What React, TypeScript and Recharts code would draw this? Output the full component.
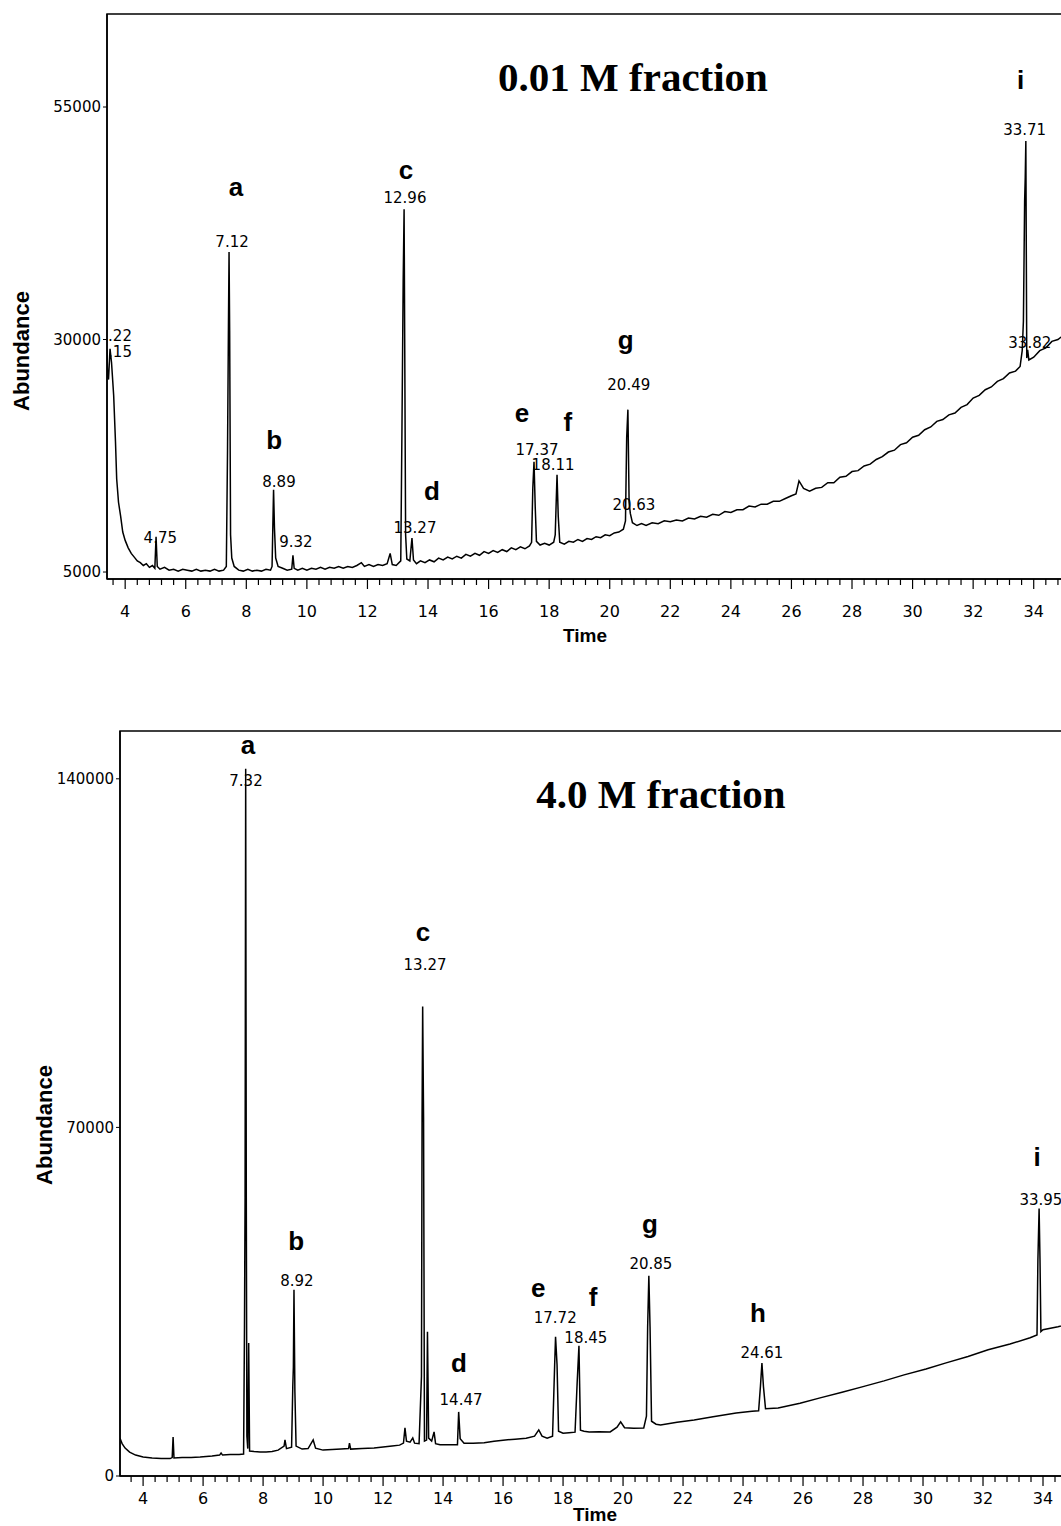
import * as React from 'react';
import { LineChart, Line, XAxis, YAxis, ReferenceArea, ReferenceDot } from 'recharts';

const SANS = '"Liberation Sans", Arial, sans-serif';
const NUM = '"DejaVu Sans", "Liberation Sans", sans-serif';
const SERIF = '"Liberation Serif", "Times New Roman", serif';

// chromatogram traces: [time (min), abundance]
const topTrace: [number, number][] = [
  [3.4, 28900], [3.42, 26000], [3.45, 25700], [3.5, 29000], [3.55, 27500], [3.62, 24000], [3.68, 19000],
  [3.72, 15000], [3.78, 12500], [3.85, 11000], [3.92, 9300], [4.0, 8400], [4.1, 7600], [4.2, 7000],
  [4.3, 6600], [4.4, 6200], [4.5, 6000], [4.6, 5700], [4.7, 5900], [4.8, 5500], [4.9, 5700], [4.98, 5400],
  [5.02, 8800], [5.06, 5600], [5.15, 5300], [5.3, 5500], [5.45, 5200], [5.6, 5300], [5.75, 5100],
  [5.9, 5300], [6.05, 5200], [6.2, 5100], [6.35, 5300], [6.5, 5100], [6.65, 5200], [6.8, 5100],
  [6.95, 5300], [7.1, 5100], [7.25, 5200], [7.34, 5600], [7.38, 18100], [7.41, 31400], [7.43, 39400],
  [7.45, 31000], [7.48, 9000], [7.52, 6500], [7.6, 5600], [7.75, 5200], [7.9, 5100], [8.05, 5300],
  [8.2, 5100], [8.35, 5200], [8.5, 5100], [8.65, 5300], [8.8, 5200], [8.85, 5600], [8.9, 13840],
  [8.93, 9700], [8.97, 6500], [9.05, 5600], [9.2, 5400], [9.35, 5200], [9.5, 5300], [9.54, 6800],
  [9.58, 5400], [9.7, 5200], [9.85, 5400], [10.0, 5200], [10.15, 5400], [10.3, 5300], [10.45, 5500],
  [10.6, 5300], [10.75, 5500], [10.9, 5400], [11.05, 5600], [11.2, 5400], [11.35, 5600], [11.5, 5500],
  [11.65, 5700], [11.8, 6000], [11.9, 5600], [12.05, 5800], [12.2, 5600], [12.35, 5800], [12.5, 5700],
  [12.65, 5900], [12.75, 7000], [12.82, 5800], [12.95, 5700], [13.1, 6200], [13.14, 20600], [13.18, 36300],
  [13.21, 44000], [13.23, 30000], [13.26, 9000], [13.3, 6400], [13.4, 6200], [13.47, 8660], [13.52, 6300],
  [13.62, 5900], [13.75, 6200], [13.9, 6000], [14.05, 6300], [14.2, 6100], [14.35, 6500], [14.5, 6300],
  [14.65, 6600], [14.8, 6400], [14.95, 6700], [15.1, 6500], [15.25, 6900], [15.4, 6700], [15.55, 7000],
  [15.7, 6800], [15.85, 7200], [16.0, 7000], [16.15, 7300], [16.3, 7100], [16.45, 7400], [16.6, 7200],
  [16.75, 7600], [16.9, 7400], [17.05, 7700], [17.2, 7500], [17.35, 7800], [17.42, 8200], [17.46, 14000],
  [17.5, 16860], [17.54, 12000], [17.58, 8300], [17.7, 7900], [17.85, 8100], [18.0, 7900], [18.15, 8200],
  [18.2, 9000], [18.26, 15460], [18.3, 11000], [18.35, 8200], [18.5, 8000], [18.65, 8300], [18.8, 8200],
  [18.95, 8500], [19.1, 8300], [19.25, 8600], [19.4, 8500], [19.55, 8800], [19.7, 8700], [19.85, 9000],
  [20.0, 8900], [20.15, 9200], [20.3, 9300], [20.45, 9600], [20.52, 10500], [20.56, 19450], [20.6, 22460],
  [20.64, 12500], [20.68, 11300], [20.75, 10300], [20.9, 10000], [21.05, 10200], [21.2, 10000],
  [21.4, 10300], [21.6, 10200], [21.8, 10500], [22.0, 10400], [22.2, 10600], [22.4, 10500], [22.6, 10800],
  [22.8, 10700], [23.0, 11000], [23.2, 10900], [23.4, 11200], [23.6, 11100], [23.8, 11500], [24.0, 11400],
  [24.2, 11700], [24.4, 11700], [24.6, 12100], [24.8, 12000], [25.0, 12300], [25.2, 12300], [25.4, 12600],
  [25.6, 12600], [25.8, 12900], [26.0, 13200], [26.15, 13400], [26.25, 14800], [26.4, 14000],
  [26.6, 13700], [26.8, 14000], [27.0, 14100], [27.2, 14600], [27.4, 14600], [27.6, 15200], [27.8, 15300],
  [28.0, 15800], [28.2, 15900], [28.4, 16400], [28.6, 16600], [28.8, 17100], [29.0, 17400], [29.2, 17900],
  [29.4, 18100], [29.6, 18700], [29.8, 18900], [30.0, 19500], [30.2, 19700], [30.4, 20300], [30.6, 20600],
  [30.8, 21200], [31.0, 21400], [31.2, 21900], [31.4, 22100], [31.6, 22700], [31.8, 23000], [32.0, 23700],
  [32.2, 24000], [32.4, 24600], [32.6, 24900], [32.8, 25500], [33.0, 25800], [33.2, 26400], [33.4, 26600],
  [33.55, 27100], [33.62, 28800], [33.66, 32000], [33.7, 44900], [33.72, 47400], [33.74, 51350],
  [33.77, 28000], [33.8, 28900], [33.84, 27800], [34.0, 28100], [34.2, 28800], [34.4, 29100],
  [34.6, 29800], [34.8, 30000], [35.0, 30500],
];

const bottomTrace: [number, number][] = [
  [3.23, 7600], [3.3, 6500], [3.4, 5600], [3.55, 4800], [3.75, 4200], [4.0, 3800], [4.3, 3600],
  [4.6, 3500], [4.9, 3500], [4.97, 3700], [5.0, 7840], [5.03, 3600], [5.3, 3700], [5.6, 3700],
  [5.9, 3800], [6.1, 3900], [6.3, 4000], [6.55, 4200], [6.6, 4600], [6.65, 4200], [6.9, 4300],
  [7.2, 4300], [7.35, 4400], [7.38, 30000], [7.4, 56000], [7.42, 142000], [7.44, 56000], [7.46, 8000],
  [7.49, 5500], [7.52, 26700], [7.55, 5000], [7.7, 4900], [7.9, 4800], [8.1, 4800], [8.3, 4900],
  [8.5, 5200], [8.7, 6000], [8.73, 7240], [8.78, 5500], [8.95, 5800], [8.99, 17900], [9.01, 21900],
  [9.03, 37400], [9.06, 17000], [9.1, 6000], [9.3, 5400], [9.5, 5500], [9.67, 7240], [9.75, 5600],
  [10.0, 5200], [10.3, 5300], [10.6, 5400], [10.85, 5500], [10.88, 6600], [10.92, 5400], [11.3, 5500],
  [11.7, 5600], [12.0, 5800], [12.3, 6000], [12.55, 6200], [12.68, 6600], [12.73, 9650], [12.78, 7000],
  [12.9, 6800], [12.99, 7640], [13.05, 6600], [13.2, 6500], [13.28, 20000], [13.3, 72200], [13.32, 94300],
  [13.35, 72000], [13.38, 7000], [13.45, 7200], [13.48, 28960], [13.52, 7600], [13.62, 7000],
  [13.7, 8850], [13.75, 6500], [13.9, 6300], [14.2, 6300], [14.48, 6300], [14.52, 12870], [14.57, 7500],
  [14.7, 6600], [15.0, 6600], [15.37, 6700], [15.7, 7000], [16.0, 7200], [16.4, 7400], [16.77, 7600],
  [17.05, 8000], [17.19, 9250], [17.3, 8000], [17.47, 7600], [17.65, 8000], [17.72, 22300],
  [17.75, 27950], [17.8, 22300], [17.85, 9000], [18.0, 8600], [18.2, 8700], [18.4, 8800], [18.47, 18700],
  [18.53, 26140], [18.58, 9200], [18.7, 9000], [18.87, 8850], [19.2, 8900], [19.57, 8850], [19.8, 9800],
  [19.92, 10860], [20.05, 9700], [20.35, 9600], [20.69, 9650], [20.78, 12000], [20.82, 29960],
  [20.86, 40220], [20.9, 29960], [20.95, 11000], [21.1, 10400], [21.25, 10260], [21.8, 10800],
  [22.37, 11260], [23.0, 11900], [23.77, 12670], [24.3, 13000], [24.52, 13100], [24.58, 18000],
  [24.63, 22700], [24.68, 18000], [24.75, 13500], [25.17, 13670], [25.9, 14600], [26.57, 15690],
  [27.3, 16800], [27.97, 17900], [28.7, 19100], [29.37, 20310], [30.1, 21500], [30.77, 22720],
  [31.5, 24000], [32.17, 25340], [32.9, 26500], [33.57, 27750], [33.8, 28300], [33.83, 43440],
  [33.87, 53690], [33.9, 43440], [33.93, 29000], [34.0, 29360], [34.5, 29960], [35.0, 30700],
];

// axis ranges and tick labels
const topTimeDomain: [number, number] = [3.4, 35];
const topAbundanceDomain: [number, number] = [4250, 65000];
const topAbundanceTicks = [5000, 30000, 55000];
const bottomTimeDomain: [number, number] = [3.23, 35];
const bottomAbundanceDomain: [number, number] = [0, 149600];
const bottomAbundanceTicks = [0, 70000, 140000];

// minor ticks every 0.4 min, labelled on even minutes
const timeTicks: number[] = [];
for (let k = 9; k <= 87; k++) timeTicks.push(Math.round(k * 4) / 10);

// peak annotations: [text, time, abundance]
type Note = [string, number, number];
const topLetters: Note[] = [
  ['a', 7.66, 46390], ['b', 8.92, 19190], ['c', 13.27, 48200], ['d', 14.13, 13710], ['e', 17.1, 22090],
  ['f', 18.62, 21120], ['g', 20.53, 29940], ['i', 33.57, 57890],
];
const topTimes: Note[] = [
  ['.22', 3.83, 30370], ['.15', 3.83, 28650], ['4.75', 5.16, 8660], ['7.12', 7.53, 40480],
  ['8.89', 9.08, 14680], ['9.32', 9.64, 8230], ['12.96', 13.24, 45200], ['13.27', 13.57, 9730],
  ['17.37', 17.6, 18120], ['18.11', 18.13, 16500], ['20.49', 20.63, 25100], ['20.63', 20.8, 12200],
  ['33.71', 33.7, 52500], ['33.82', 33.87, 29620],
];
const bottomLetters: Note[] = [
  ['a', 7.5, 146860], ['b', 9.1, 47210], ['c', 13.33, 109290], ['d', 14.53, 22700], ['e', 17.17, 37770],
  ['f', 19.0, 35960], ['g', 20.9, 50630], ['h', 24.5, 32750], ['i', 33.8, 64090],
];
const bottomTimes: Note[] = [
  ['7.32', 7.43, 139620], ['8.92', 9.13, 39180], ['13.27', 13.4, 102660], ['14.47', 14.6, 15270],
  ['17.72', 17.74, 31740], ['18.45', 18.76, 27720], ['20.85', 20.93, 42590], ['24.61', 24.63, 24710],
  ['33.95', 33.93, 55450],
];

function TimeTick(props: any) {
  const { x, y, payload, labelGap } = props;
  const v = payload.value;
  const major = Math.abs(v - Math.round(v)) < 1e-6 && Math.round(v) % 2 === 0;
  return (
    <g>
      <line x1={x} x2={x} y1={y} y2={y + (major ? 10 : 6)} stroke="#000" strokeWidth={1.2} />
      {major && (
        <text x={x} y={y + labelGap} textAnchor="middle" fontSize={16} fontFamily={NUM} fill="#000">
          {Math.round(v)}
        </text>
      )}
    </g>
  );
}

function Chromatogram({
  trace, timeDomain, yDomain, yTicks, letters, times, width, height, margin, yAxisWidth, xAxisHeight, labelGap,
}: {
  trace: [number, number][];
  timeDomain: [number, number];
  yDomain: [number, number];
  yTicks: number[];
  letters: Note[];
  times: Note[];
  width: number;
  height: number;
  margin: { top: number; right: number; bottom: number; left: number };
  yAxisWidth: number;
  xAxisHeight: number;
  labelGap: number;
}) {
  const data = React.useMemo(() => trace.map(([t, v]) => ({ t, v })), [trace]);
  return (
    <LineChart width={width} height={height} data={data} margin={margin}>
      <XAxis
        dataKey="t"
        type="number"
        domain={timeDomain}
        allowDataOverflow
        ticks={timeTicks.filter((t) => t >= timeDomain[0] && t <= timeDomain[1])}
        interval={0}
        tickSize={0}
        tickMargin={0}
        height={xAxisHeight}
        axisLine={{ stroke: '#000', strokeWidth: 1.5 }}
        tickLine={false}
        tick={(p: any) => <TimeTick {...p} labelGap={labelGap} />}
      />
      <YAxis
        type="number"
        domain={yDomain}
        allowDataOverflow
        ticks={yTicks}
        interval={0}
        width={yAxisWidth}
        tickSize={4}
        tickMargin={2}
        axisLine={{ stroke: '#000', strokeWidth: 1.5 }}
        tickLine={{ stroke: '#000' }}
        tick={{ fontSize: 15, fill: '#000', fontFamily: NUM }}
      />
      <ReferenceArea
        x1={timeDomain[0]}
        x2={timeDomain[1]}
        y1={yDomain[0]}
        y2={yDomain[1]}
        fill="none"
        stroke="#000"
        strokeWidth={1.5}
        fillOpacity={0}
      />
      <Line
        type="linear"
        dataKey="v"
        stroke="#000"
        strokeWidth={1.5}
        dot={false}
        isAnimationActive={false}
      />
      {letters.map(([txt, t, v], i) => (
        <ReferenceDot
          key={`l${i}`}
          x={t}
          y={v}
          r={0}
          shape={(p: any) => (
            <text x={p.cx} y={p.cy} textAnchor="middle" dominantBaseline="central" fontSize={26}
              fontWeight="bold" fontFamily={SANS} fill="#000">
              {txt}
            </text>
          )}
        />
      ))}
      {times.map(([txt, t, v], i) => (
        <ReferenceDot
          key={`t${i}`}
          x={t}
          y={v}
          r={0}
          shape={(p: any) => (
            <text x={p.cx} y={p.cy} textAnchor="middle" dominantBaseline="central" fontSize={15}
              fontFamily={NUM} fill="#000">
              {txt}
            </text>
          )}
        />
      ))}
    </LineChart>
  );
}

const abs = (left: number, top: number): React.CSSProperties => ({ position: 'absolute', left, top });

export default function App() {
  return (
    <div style={{ position: 'absolute', left: 0, top: 0, width: 1061, height: 1526, overflow: 'hidden', background: '#fff' }}>
      <div style={abs(0, 0)}>
        <Chromatogram
          trace={topTrace}
          timeDomain={topTimeDomain}
          yDomain={topAbundanceDomain}
          yTicks={topAbundanceTicks}
          letters={topLetters}
          times={topTimes}
          width={1080}
          height={660}
          margin={{ top: 14, right: 16, bottom: 11, left: 0 }}
          yAxisWidth={107}
          xAxisHeight={70}
          labelGap={38}
        />
      </div>
      <div style={abs(0, 720)}>
        <Chromatogram
          trace={bottomTrace}
          timeDomain={bottomTimeDomain}
          yDomain={bottomAbundanceDomain}
          yTicks={bottomAbundanceTicks}
          letters={bottomLetters}
          times={bottomTimes}
          width={1090}
          height={820}
          margin={{ top: 11, right: 17, bottom: 6, left: 0 }}
          yAxisWidth={120}
          xAxisHeight={58}
          labelGap={28}
        />
      </div>

      <div style={{ ...abs(633, 77), transform: 'translate(-50%, -50%)', fontFamily: SERIF, fontWeight: 'bold', fontSize: 41, whiteSpace: 'nowrap' }}>
        0.01 M fraction
      </div>
      <div style={{ ...abs(661, 794), transform: 'translate(-50%, -50%)', fontFamily: SERIF, fontWeight: 'bold', fontSize: 41, whiteSpace: 'nowrap' }}>
        4.0 M fraction
      </div>

      <div style={{ ...abs(22, 351), transform: 'translate(-50%, -50%) rotate(-90deg)', fontFamily: SANS, fontWeight: 'bold', fontSize: 22, whiteSpace: 'nowrap' }}>
        Abundance
      </div>
      <div style={{ ...abs(45, 1125), transform: 'translate(-50%, -50%) rotate(-90deg)', fontFamily: SANS, fontWeight: 'bold', fontSize: 22, whiteSpace: 'nowrap' }}>
        Abundance
      </div>
      <div style={{ ...abs(585, 636), transform: 'translate(-50%, -50%)', fontFamily: SANS, fontWeight: 'bold', fontSize: 19, whiteSpace: 'nowrap' }}>
        Time
      </div>
      <div style={{ ...abs(595, 1515), transform: 'translate(-50%, -50%)', fontFamily: SANS, fontWeight: 'bold', fontSize: 19, whiteSpace: 'nowrap' }}>
        Time
      </div>
    </div>
  );
}
